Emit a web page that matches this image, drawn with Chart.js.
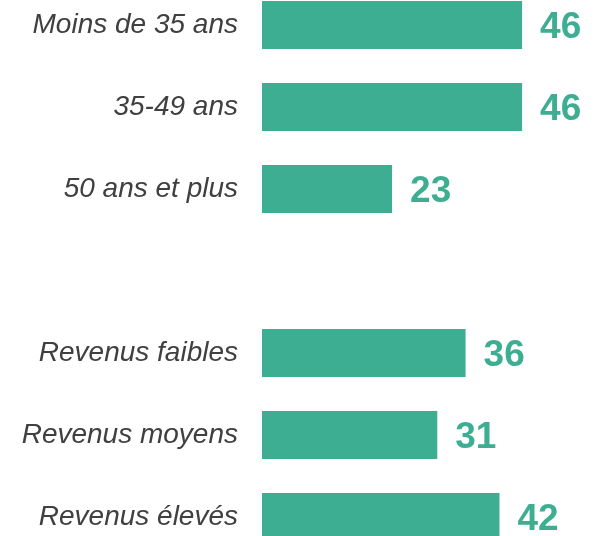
<!DOCTYPE html>
<html>
<head>
<meta charset="utf-8">
<script src="https://cdn.jsdelivr.net/npm/chart.js@4.4.1/dist/chart.umd.min.js"></script>
<style>
  html, body { margin: 0; padding: 0; background: #fff; overflow: hidden; }
  .chart-container { position: absolute; left: 0; top: -16px; width: 596px; height: 574px; }
</style>
</head>
<body>
<div class="chart-container">
  <canvas id="chart"></canvas>
</div>
<script>
// categories (empty slot separates age and income groups)
const categories = ['Moins de 35 ans', '35-49 ans', '50 ans et plus', '', 'Revenus faibles', 'Revenus moyens', 'Revenus élevés'];
const values = [46, 46, 23, null, 36, 31, 42];

const barColor = '#3eae93';

// draw the value next to each bar
const valueLabels = {
  id: 'valueLabels',
  afterDatasetsDraw(chart) {
    const ctx = chart.ctx;
    const meta = chart.getDatasetMeta(0);
    ctx.save();
    ctx.font = 'bold 37px "Liberation Sans", Arial, sans-serif';
    ctx.fillStyle = barColor;
    ctx.textAlign = 'left';
    ctx.textBaseline = 'middle';
    meta.data.forEach((bar, i) => {
      if (values[i] == null) return;
      ctx.fillText(String(values[i]), bar.x + 18, bar.y + 3);
    });
    ctx.restore();
  }
};

new Chart(document.getElementById('chart').getContext('2d'), {
  type: 'bar',
  data: {
    labels: categories,
    datasets: [{
      data: values,
      backgroundColor: barColor,
      borderWidth: 0,
      categoryPercentage: 48 / 82,
      barPercentage: 1
    }]
  },
  options: {
    indexAxis: 'y',
    responsive: true,
    maintainAspectRatio: false,
    animation: false,
    layout: { padding: { left: 0, right: 23, top: 0, bottom: 0 } },
    plugins: {
      legend: { display: false },
      tooltip: { enabled: false }
    },
    scales: {
      x: {
        display: false,
        min: 0,
        max: 55
      },
      y: {
        grid: { display: false, drawTicks: false },
        border: { display: false },
        ticks: {
          padding: 24,
          color: '#404040',
          font: { family: '"Liberation Sans", Arial, sans-serif', size: 28, style: 'italic' }
        },
        afterFit(scale) {
          scale.width = 262;
          scale.paddingTop = 0;
          scale.paddingBottom = 0;
        }
      }
    }
  },
  plugins: [valueLabels]
});
</script>
</body>
</html>
